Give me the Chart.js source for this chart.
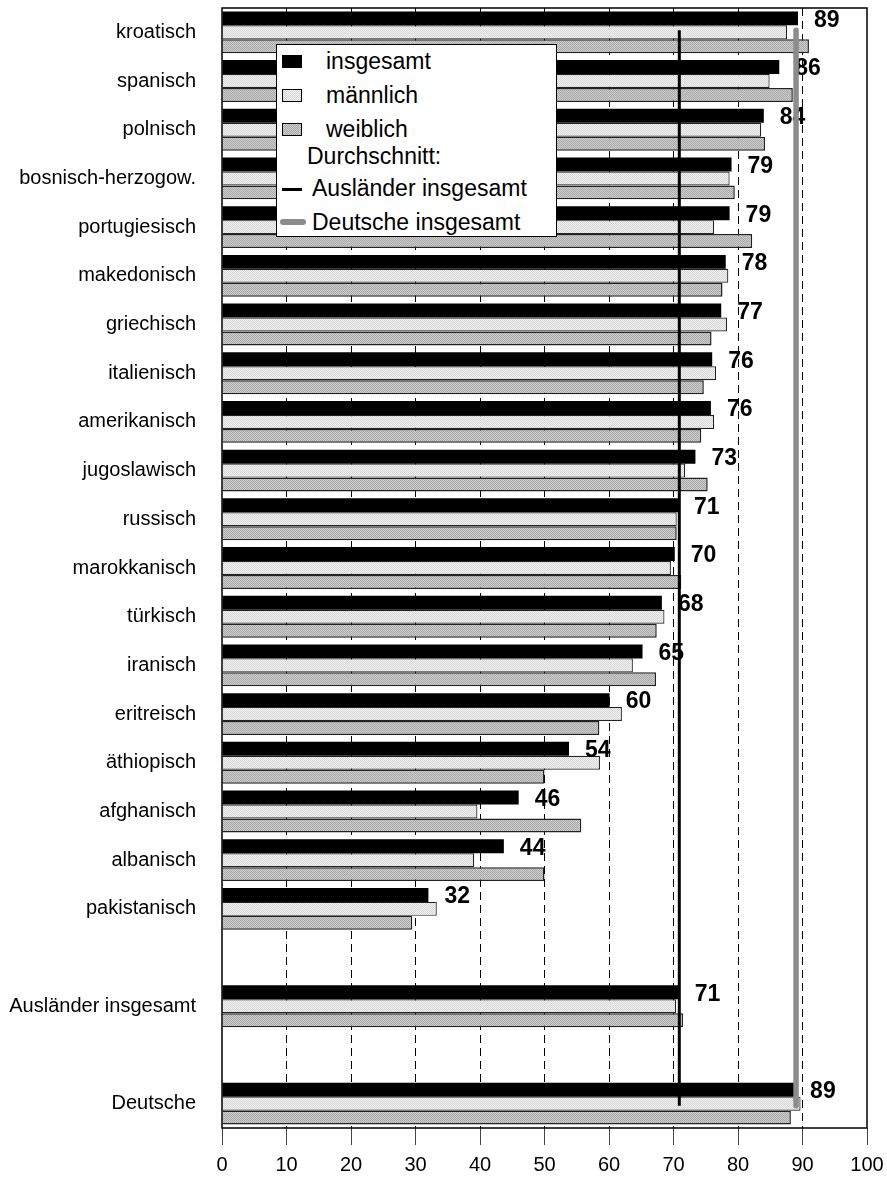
<!DOCTYPE html>
<html lang="de">
<head>
<meta charset="utf-8">
<title>Anteil nach Staatsangehörigkeit</title>
<script src="https://cdn.jsdelivr.net/npm/chart.js@4.4.1/dist/chart.umd.min.js"></script>
<style>
  body { margin: 0; background: #fff; }
  #wrap { position: relative; width: 887px; height: 1178px; }
  #legende {
    position: absolute; left: 276px; top: 44px; width: 279px; height: 191px;
    border: 1.5px solid #000; background: #fff;
    font-family: "Liberation Sans", Arial, sans-serif; font-size: 23px; color: #000;
  }
  .txt { position: absolute; white-space: nowrap; line-height: 26px; }
  .box { position: absolute; left: 5px; width: 18px; height: 11px; border: 1px solid #000; }
</style>
</head>
<body>
<div id="wrap">
  <canvas id="chart" width="887" height="1178"></canvas>
  <div id="legende">
    <div class="box" style="top:10px;background:#000;"></div>
    <div class="txt" style="left:49px;top:3px;">insgesamt</div>
    <div class="box" id="boxM" style="top:44px;"></div>
    <div class="txt" style="left:49px;top:37px;">männlich</div>
    <div class="box" id="boxW" style="top:78px;"></div>
    <div class="txt" style="left:49px;top:71px;">weiblich</div>
    <div class="txt" style="left:30px;top:98px;">Durchschnitt:</div>
    <div style="position:absolute;left:5px;top:143px;width:20px;height:3px;background:#000;"></div>
    <div class="txt" style="left:35px;top:130px;">Ausländer insgesamt</div>
    <div style="position:absolute;left:3px;top:174px;width:26px;height:6px;border-radius:3px;background:#8c8c8c;"></div>
    <div class="txt" style="left:35px;top:164px;">Deutsche insgesamt</div>
  </div>
</div>
<script>
// Werte in Prozent
const kategorien = ['kroatisch', 'spanisch', 'polnisch', 'bosnisch-herzogow.', 'portugiesisch',
  'makedonisch', 'griechisch', 'italienisch', 'amerikanisch', 'jugoslawisch', 'russisch',
  'marokkanisch', 'türkisch', 'iranisch', 'eritreisch', 'äthiopisch', 'afghanisch',
  'albanisch', 'pakistanisch', '', 'Ausländer insgesamt', '', 'Deutsche'];
const insgesamt = [89.3, 86.4, 84.0, 79.0, 78.7, 78.1, 77.4, 76.0, 75.8, 73.4, 70.7,
  70.2, 68.2, 65.2, 60.1, 53.8, 46.0, 43.7, 32.0, null, 70.8, null, 88.7];
const maennlich = [87.6, 84.9, 83.6, 78.7, 76.3, 78.5, 78.3, 76.6, 76.3, 71.8, 70.5,
  69.6, 68.6, 63.7, 62.0, 58.6, 39.6, 39.1, 33.3, null, 70.4, null, 89.7];
const weiblich = [91.0, 88.5, 84.2, 79.5, 82.2, 77.6, 75.9, 74.7, 74.3, 75.3, 70.5,
  71.2, 67.4, 67.3, 58.5, 50.0, 55.7, 50.0, 29.5, null, 71.5, null, 88.2];
const durchschnittAuslaender = 70.9;
const durchschnittDeutsche = 89.0;

const schrift = '"Liberation Sans", Arial, sans-serif';

// kleine Punktraster fuer die grauen Balken
function muster(hell, dunkel) {
  const c = document.createElement('canvas');
  c.width = 2; c.height = 2;
  const g = c.getContext('2d');
  g.fillStyle = hell; g.fillRect(0, 0, 2, 2);
  g.fillStyle = dunkel; g.fillRect(0, 0, 1, 1); g.fillRect(1, 1, 1, 1);
  return g;
}
const gM = muster('#f2f2f2', '#d6d6d6');
const gW = muster('#cdcdcd', '#a9a9a9');
const musterM = gM.createPattern(gM.canvas, 'repeat');
const musterW = gW.createPattern(gW.canvas, 'repeat');
document.getElementById('boxM').style.background = 'url(' + gM.canvas.toDataURL() + ')';
document.getElementById('boxW').style.background = 'url(' + gW.canvas.toDataURL() + ')';

const zusatz = {
  id: 'zusatz',
  afterDatasetsDraw(chart) {
    const { ctx, chartArea: a, scales: { x, y } } = chart;
    ctx.save();
    // Wertbeschriftung insgesamt
    ctx.font = 'bold 23px ' + schrift;
    ctx.fillStyle = '#000';
    ctx.textAlign = 'left';
    ctx.textBaseline = 'middle';
    chart.getDatasetMeta(0).data.forEach((bar, i) => {
      if (insgesamt[i] == null) return;
      ctx.fillText(Math.round(insgesamt[i]), bar.x + 16, bar.y + 2);
    });
    // Durchschnittslinien
    const yOben = y.getPixelForValue(0) - 2;
    const yUnten = y.getPixelForValue(kategorien.length - 1) + 2;
    let xa = x.getPixelForValue(durchschnittAuslaender);
    ctx.strokeStyle = '#000';
    ctx.lineWidth = 3;
    ctx.beginPath(); ctx.moveTo(xa, yOben); ctx.lineTo(xa, yUnten); ctx.stroke();
    let xd = x.getPixelForValue(durchschnittDeutsche);
    ctx.strokeStyle = '#8c8c8c';
    ctx.lineWidth = 5.5;
    ctx.lineCap = 'round';
    ctx.beginPath(); ctx.moveTo(xd, yOben); ctx.lineTo(xd, yUnten); ctx.stroke();
    // Rahmen
    ctx.lineCap = 'butt';
    ctx.strokeStyle = '#000';
    ctx.lineWidth = 1.5;
    ctx.strokeRect(a.left, a.top, a.width, a.height);
    ctx.restore();
  }
};

new Chart(document.getElementById('chart').getContext('2d'), {
  type: 'bar',
  data: {
    labels: kategorien,
    datasets: [
      { label: 'insgesamt', data: insgesamt, backgroundColor: '#000', borderWidth: 0 },
      { label: 'männlich', data: maennlich, backgroundColor: musterM, borderColor: '#222', borderWidth: 1.2 },
      { label: 'weiblich', data: weiblich, backgroundColor: musterW, borderColor: '#222', borderWidth: 1.5 }
    ]
  },
  options: {
    indexAxis: 'y',
    responsive: false,
    animation: false,
    layout: { padding: { top: 8, right: 20, bottom: 0, left: 0 } },
    datasets: { bar: { categoryPercentage: 0.86, barPercentage: 1.0 } },
    plugins: { legend: { display: false }, tooltip: { enabled: false } },
    scales: {
      x: {
        min: 0, max: 100,
        ticks: { stepSize: 10, color: '#000', padding: 8, font: { size: 20, family: schrift } },
        grid: {
          color: c => (c.tick && (c.tick.value === 0 || c.tick.value === 100)) ? 'rgba(0,0,0,0)' : '#000',
          lineWidth: 1, tickLength: 17, tickColor: '#444', tickWidth: 1
        },
        border: { display: false, dash: [8, 5] },
        afterFit(s) { s.height = 50; s.paddingLeft = 0; s.paddingRight = 0; }
      },
      y: {
        grid: { display: false, drawTicks: false },
        border: { display: false },
        ticks: { color: '#000', padding: 26, autoSkip: false, font: { size: 20, family: schrift } },
        afterFit(s) { s.width = 222; s.paddingTop = 0; s.paddingBottom = 0; }
      }
    }
  },
  plugins: [zusatz]
});
</script>
</body>
</html>
